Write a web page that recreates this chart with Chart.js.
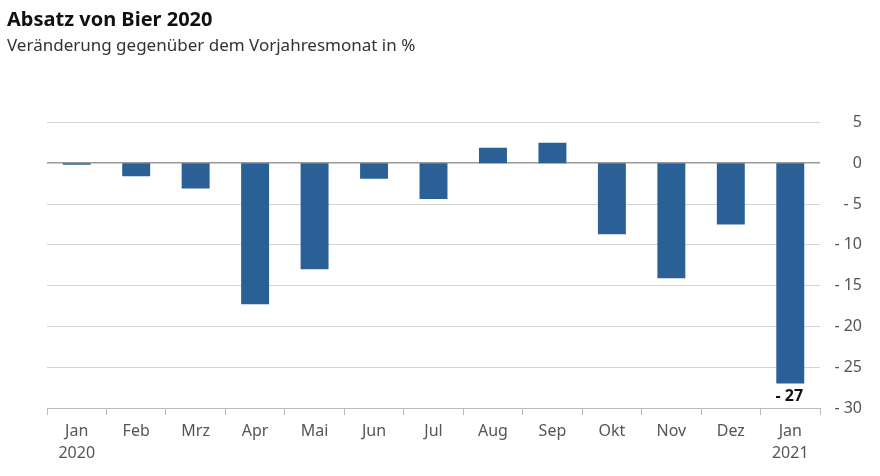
<!DOCTYPE html>
<html>
<head>
<meta charset="utf-8">
<script src="https://cdn.jsdelivr.net/npm/chart.js@4"></script>
<style>
  html, body { margin: 0; padding: 0; background: #fff; }
  #wrap { width: 880px; height: 476px; }
</style>
</head>
<body>
<div id="wrap"><canvas id="bierChart"></canvas></div>
<script>
// ==========================
// Data
// ==========================
const monthLabels = [["Jan", "2020"], "Feb", "Mrz", "Apr", "Mai", "Jun", "Jul", "Aug", "Sep", "Okt", "Nov", "Dez", ["Jan", "2021"]];
const changeValues = [-0.2, -1.6, -3.1, -17.3, -13.0, -1.9, -4.4, 1.9, 2.5, -8.7, -14.1, -7.5, -27];
const labelledIndex = [12];
const labelledText = ["- 27"];

const fontName = "'Noto Sans', 'Open Sans', sans-serif";
const barColor = "#2b6096";
const tickColor = "#555";

// draws "- 27" under the last bar
const valueLabelPlugin = {
  id: "valueLabel",
  afterDatasetsDraw(chart) {
    const ctx = chart.ctx;
    const meta = chart.getDatasetMeta(0);
    ctx.save();
    ctx.font = "bold 16px " + fontName;
    ctx.fillStyle = "#111";
    ctx.textAlign = "center";
    ctx.textBaseline = "middle";
    labelledIndex.forEach((idx, i) => {
      const bar = meta.data[idx];
      ctx.fillText(labelledText[i], bar.x - 1, bar.y + 13);
    });
    ctx.restore();
  }
};

const ctx = document.getElementById("bierChart").getContext("2d");
new Chart(ctx, {
  type: "bar",
  data: {
    labels: monthLabels,
    datasets: [{
      data: changeValues,
      backgroundColor: barColor,
      categoryPercentage: 1,
      barPercentage: 0.47
    }]
  },
  options: {
    responsive: true,
    maintainAspectRatio: false,
    animation: false,
    layout: { padding: { left: 7, right: 18, top: 0, bottom: 0 } },
    plugins: {
      legend: { display: false },
      tooltip: { enabled: false },
      title: {
        display: true,
        text: "Absatz von Bier 2020",
        align: "start",
        color: "#111",
        font: { family: fontName, size: 20, weight: "bold" },
        padding: { top: 8, bottom: 2 }
      },
      subtitle: {
        display: true,
        text: "Veränderung gegenüber dem Vorjahresmonat in %",
        align: "start",
        color: "#333",
        font: { family: fontName, size: 17 },
        padding: { top: 2, bottom: 66 }
      }
    },
    scales: {
      x: {
        offset: true,
        grid: {
          offset: true,
          drawOnChartArea: false,
          drawTicks: true,
          tickLength: 7,
          color: "#bbb"
        },
        border: { color: "#bbb" },
        ticks: {
          color: tickColor,
          maxRotation: 0,
          autoSkip: false,
          padding: 5,
          font: { family: fontName, size: 16, lineHeight: 1.4 }
        },
        afterFit(scale) { scale.height = 68; }
      },
      yPad: {
        position: "left",
        display: true,
        grid: { display: false },
        border: { display: false },
        ticks: { display: false },
        afterFit(scale) { scale.width = 40; }
      },
      y: {
        position: "right",
        min: -30,
        max: 5,
        grid: {
          drawTicks: false,
          color: (c) => c.tick.value === 0 ? "#999" : "#d3d3d3",
          lineWidth: (c) => c.tick.value === 0 ? 1.5 : 1
        },
        border: { display: false },
        ticks: {
          stepSize: 5,
          color: tickColor,
          padding: 8,
          crossAlign: "far",
          font: { family: fontName, size: 16 },
          callback: (v) => v < 0 ? "- " + Math.abs(v) : String(v)
        },
        afterFit(scale) { scale.width = 42; }
      }
    }
  },
  plugins: [valueLabelPlugin]
});
</script>
</body>
</html>
